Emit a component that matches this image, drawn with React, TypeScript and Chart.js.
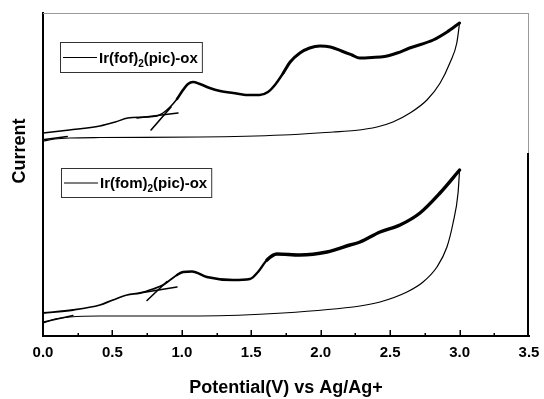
import React, { useEffect, useRef } from 'react';
import { Chart, registerables } from 'chart.js';

Chart.register(...registerables);

const FONT = "'Liberation Sans', Arial, Helvetica, sans-serif";

// Axis settings
const X_MIN = 0;
const X_MAX = 3.5;
const X_MAJOR = 0.5;
const X_MINOR = 0.25;
const X_TITLE = 'Potential(V) vs Ag/Ag+';
const Y_TITLE = 'Current';
const Y_MIN = 0;
const Y_MAX = 323; // arbitrary current units
const PANEL_SPLIT = 183; // current value at which the two stacked panels meet

// Series names: [base, subscript, rest]
const FOF_NAME = ['Ir(fof)', '2', '(pic)-ox'];
const FOM_NAME = ['Ir(fom)', '2', '(pic)-ox'];

// Ir(fof)2(pic)-ox, upper panel
const FOF_FWD_V = [0, 0.19, 0.41, 0.52, 0.61, 0.735, 0.82, 0.864, 0.915, 0.965, 1.008, 1.044, 1.08, 1.13, 1.2, 1.275, 1.37, 1.476, 1.56, 1.62, 1.67, 1.73, 1.78, 1.85, 1.92, 1.995, 2.07, 2.15, 2.225, 2.28, 2.37, 2.46, 2.55, 2.64, 2.81, 2.91, 3.0];
const FOF_FWD_I = [203, 206, 210, 214, 218, 219, 220, 223, 229, 237, 246, 252, 254, 252, 248, 245, 243, 241, 241, 244, 251, 263, 274, 283, 288, 290, 289, 285, 281, 278, 278.5, 279.5, 283, 288, 296, 304, 313];
const FOF_REV_V = [3.0, 2.98, 2.93, 2.86, 2.765, 2.643, 2.52, 2.405, 2.245, 2.088, 1.728, 1.13, 0.41, 0.194, 0.086, 0];
const FOF_REV_I = [313, 293, 273, 253, 236, 223, 214, 209, 205.5, 204, 201, 199, 198.5, 198, 197, 195];
const FOF_TAN1_V = [0.778, 0.922];
const FOF_TAN1_I = [206, 229];
const FOF_TAN2_V = [0.677, 0.972];
const FOF_TAN2_I = [218, 223];
const FOF_TAN0_V = [0.01, 0.175];
const FOF_TAN0_I = [196.5, 199.5];

// Ir(fom)2(pic)-ox, lower panel
const FOM_FWD_V = [0, 0.216, 0.41, 0.504, 0.605, 0.699, 0.792, 0.864, 0.915, 0.965, 1.008, 1.073, 1.18, 1.368, 1.49, 1.548, 1.613, 1.685, 1.85, 2.045, 2.21, 2.283, 2.427, 2.571, 2.715, 2.859, 3.0];
const FOM_FWD_I = [23, 26, 31, 36, 41, 43, 47, 51, 56, 61, 64, 64.5, 59, 56, 57, 64, 76, 82, 81, 84, 91, 94, 104, 111, 123, 143, 166];
const FOM_REV_V = [3.0, 2.989, 2.953, 2.909, 2.837, 2.737, 2.621, 2.427, 2.283, 1.728, 1.13, 0.41, 0.194, 0.086, 0];
const FOM_REV_I = [166, 143, 113, 89, 69, 54, 44, 34, 30, 23, 20, 20, 19, 17, 13];
const FOM_TAN1_V = [0.749, 0.893];
const FOM_TAN1_I = [35.5, 54.5];
const FOM_TAN2_V = [0.699, 0.965];
const FOM_TAN2_I = [43, 49];
const FOM_TAN0_V = [0.005, 0.216];
const FOM_TAN0_I = [14, 20.5];

const zip = (xs: number[], ys: number[]) => xs.map((x, i) => ({ x, y: ys[i] }));

const line = (label: string, data: { x: number; y: number }[], width: number, extra: any = {}) => ({
  label,
  data,
  borderColor: '#000',
  backgroundColor: '#000',
  borderWidth: width,
  pointRadius: 0,
  showLine: true,
  fill: false,
  cubicInterpolationMode: 'monotone',
  borderCapStyle: 'round',
  borderJoinStyle: 'round',
  ...extra,
});

const fwdWidth = (thin: number, mid: number, thick: number, a: number, b: number) => (ctx: any) => {
  const v = ctx.p0.parsed.x;
  return v >= b ? thick : v >= a ? mid : thin;
};

const decorPlugin = {
  id: 'decor',
  afterDraw(chart: any) {
    const { ctx, chartArea: a, scales } = chart;
    const xs = scales.x;
    const ys = scales.y;
    const split = ys.getPixelForValue(PANEL_SPLIT);
    ctx.save();
    // frame: upper panel grey, lower panel black
    ctx.strokeStyle = '#9a9a9a';
    ctx.lineWidth = 1;
    ctx.beginPath();
    ctx.moveTo(a.left, a.top + 0.5);
    ctx.lineTo(a.right, a.top + 0.5);
    ctx.moveTo(a.right - 0.5, a.top);
    ctx.lineTo(a.right - 0.5, split);
    ctx.stroke();
    ctx.strokeStyle = '#000';
    ctx.lineWidth = 2;
    ctx.beginPath();
    ctx.moveTo(a.right - 1, split);
    ctx.lineTo(a.right - 1, a.bottom);
    ctx.stroke();
    // inward ticks on the bottom axis
    ctx.lineWidth = 1.5;
    ctx.beginPath();
    const n = Math.round((X_MAX - X_MIN) / X_MINOR);
    for (let i = 1; i < n; i++) {
      const v = X_MIN + i * X_MINOR;
      const px = Math.round(xs.getPixelForValue(v)) + 0.25;
      const major = Math.abs(v / X_MAJOR - Math.round(v / X_MAJOR)) < 1e-6;
      ctx.moveTo(px, a.bottom);
      ctx.lineTo(px, a.bottom - (major ? 6 : 3));
    }
    ctx.stroke();
    // y title, centred on the panel join
    ctx.fillStyle = '#000';
    ctx.font = `bold 18px ${FONT}`;
    ctx.textAlign = 'center';
    ctx.textBaseline = 'alphabetic';
    ctx.save();
    ctx.translate(a.left - 18, split - 2);
    ctx.rotate(-Math.PI / 2);
    ctx.fillText(Y_TITLE, 0, 0);
    ctx.restore();
    // boxed legends with subscript
    const drawLegend = (name: string[], bx: number, by: number, bh: number) => {
      ctx.font = `bold 15px ${FONT}`;
      ctx.textAlign = 'left';
      ctx.textBaseline = 'alphabetic';
      const tx = bx + 39;
      const base = by + bh / 2 + 5.5;
      const w0 = ctx.measureText(name[0]).width;
      ctx.font = `bold 10px ${FONT}`;
      const w1 = ctx.measureText(name[1]).width;
      ctx.font = `bold 15px ${FONT}`;
      const w2 = ctx.measureText(name[2]).width;
      const end = tx + w0 + w1 + w2;
      ctx.strokeStyle = '#333';
      ctx.lineWidth = 1;
      ctx.strokeRect(bx + 0.5, by + 0.5, end + 4 - bx, bh);
      ctx.strokeStyle = '#000';
      ctx.beginPath();
      ctx.moveTo(bx + 3, by + bh / 2 + 0.5);
      ctx.lineTo(bx + 37, by + bh / 2 + 0.5);
      ctx.stroke();
      ctx.fillText(name[0], tx, base);
      ctx.font = `bold 10px ${FONT}`;
      ctx.fillText(name[1], tx + w0, base + 4);
      ctx.font = `bold 15px ${FONT}`;
      ctx.fillText(name[2], tx + w0 + w1, base);
    };
    drawLegend(FOF_NAME, a.left + 17, a.top + 29, 30);
    drawLegend(FOM_NAME, a.left + 18, a.top + 155, 29);
    ctx.restore();
  },
};

export default function App() {
  const ref = useRef<HTMLCanvasElement | null>(null);

  useEffect(() => {
    if (!ref.current) return;
    const fofName = FOF_NAME.join('');
    const fomName = FOM_NAME.join('');
    const chart = new Chart(ref.current, {
      type: 'scatter',
      data: {
        datasets: [
          line(fofName, zip(FOF_FWD_V, FOF_FWD_I), 2, { segment: { borderWidth: fwdWidth(1.5, 2.6, 3, 0.95, 1.7) } }),
          line(fofName + ' reverse', zip(FOF_REV_V, FOF_REV_I), 1.2),
          line('onset tangent 1', zip(FOF_TAN1_V, FOF_TAN1_I), 1.6, { cubicInterpolationMode: 'default', tension: 0 }),
          line('onset tangent 2', zip(FOF_TAN2_V, FOF_TAN2_I), 1.6, { cubicInterpolationMode: 'default', tension: 0 }),
          line('baseline tangent', zip(FOF_TAN0_V, FOF_TAN0_I), 1.3, { cubicInterpolationMode: 'default', tension: 0 }),
          line(fomName, zip(FOM_FWD_V, FOM_FWD_I), 2, { segment: { borderWidth: fwdWidth(1.8, 2.4, 3.4, 0.95, 1.6) } }),
          line(fomName + ' reverse', zip(FOM_REV_V, FOM_REV_I), 1.2),
          line('onset tangent 1', zip(FOM_TAN1_V, FOM_TAN1_I), 1.6, { cubicInterpolationMode: 'default', tension: 0 }),
          line('onset tangent 2', zip(FOM_TAN2_V, FOM_TAN2_I), 1.6, { cubicInterpolationMode: 'default', tension: 0 }),
          line('baseline tangent', zip(FOM_TAN0_V, FOM_TAN0_I), 1.3, { cubicInterpolationMode: 'default', tension: 0 }),
        ],
      },
      options: {
        animation: false,
        responsive: false,
        maintainAspectRatio: false,
        layout: { padding: { left: 43, right: 15, top: 13, bottom: 0 } },
        plugins: {
          legend: { display: false },
          tooltip: { enabled: false },
        },
        scales: {
          x: {
            type: 'linear',
            min: X_MIN,
            max: X_MAX,
            ticks: {
              stepSize: X_MAJOR,
              color: '#000',
              padding: 2,
              maxRotation: 0,
              font: { family: FONT, size: 15, weight: 'bold' },
              callback: (v: any) => Number(v).toFixed(1),
            },
            grid: { display: true, drawOnChartArea: false, drawTicks: true, tickLength: 6, color: 'rgba(0,0,0,0)' },
            border: { display: true, color: '#000', width: 2 },
            title: {
              display: true,
              text: X_TITLE,
              color: '#000',
              font: { family: FONT, size: 18, weight: 'bold' },
              padding: { top: 13.4, bottom: 0 },
            },
          },
          y: {
            type: 'linear',
            min: Y_MIN,
            max: Y_MAX,
            ticks: { display: false },
            grid: { display: false, drawTicks: false, drawOnChartArea: false },
            border: { display: true, color: '#000', width: 2 },
            title: { display: false, text: Y_TITLE },
          },
        },
      },
      plugins: [decorPlugin],
    } as any);
    return () => chart.destroy();
  }, []);

  return (
    <div style={{ position: 'absolute', left: 0, top: 0, width: 544, height: 399 }}>
      <canvas ref={ref} width={544} height={399} style={{ display: 'block' }} />
    </div>
  );
}
